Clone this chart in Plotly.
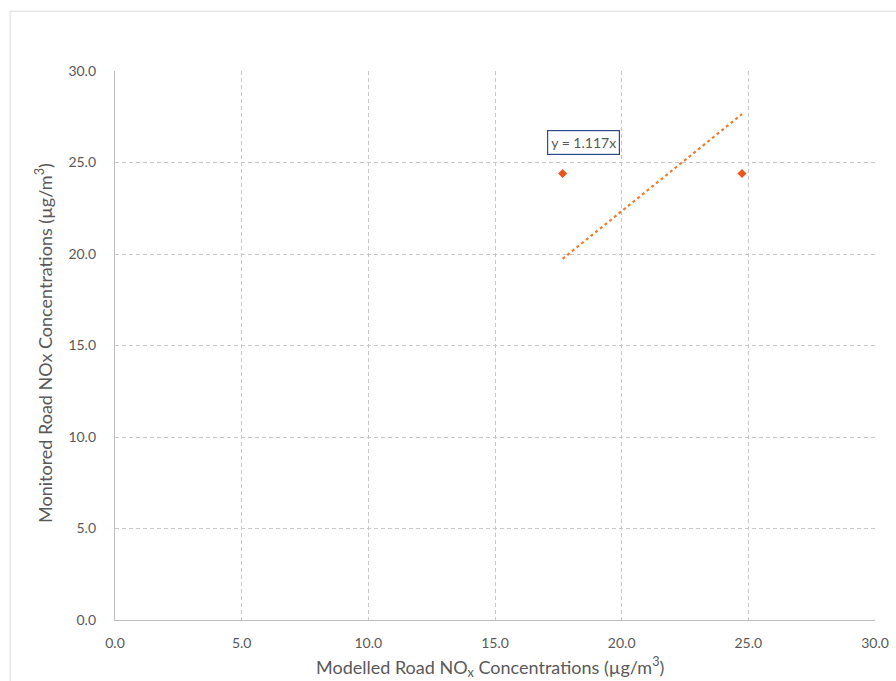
import plotly.graph_objects as go

# Data
modelled = [17.67, 24.75]          # Modelled Road NOx (µg/m3)
monitored = [24.4, 24.4]           # Monitored Road NOx (µg/m3)
slope = 1.117                      # trendline through origin
trend_label = "y = 1.117x"
tick_vals = [0, 5, 10, 15, 20, 25, 30]
x_title = "Modelled Road NO<sub>x</sub> Concentrations (µg/m<sup>3</sup>)"
y_title = "Monitored Road NOx Concentrations (µg/m<sup>3</sup>)"

x_min, x_max = min(modelled), max(modelled)
trend_x = [x_min, x_max]
trend_y = [slope * v for v in trend_x]

fig = go.Figure()
fig.add_trace(go.Scatter(
    x=trend_x, y=trend_y, mode="lines",
    line=dict(color="#ED7D31", width=2.2, dash="dot"),
    hoverinfo="skip", showlegend=False,
))
fig.add_trace(go.Scatter(
    x=modelled, y=monitored, mode="markers",
    marker=dict(symbol="diamond", size=7, color="#E8561E"),
    showlegend=False,
))

grid = "#C8C8C8"
font_family = "Lato, 'Open Sans', sans-serif"
axis_common = dict(
    range=[0, 30], tickvals=tick_vals, tickformat=".1f",
    showgrid=True, gridcolor=grid, griddash="4px,3px", gridwidth=1,
    zeroline=False, showline=True, linecolor="#BFBFBF", linewidth=1.3,
    ticks="", automargin=False,
    tickfont=dict(size=14, color="#595959"),
)

fig.update_layout(
    width=896, height=681,
    margin=dict(l=115, r=21, t=71, b=61),
    paper_bgcolor="white", plot_bgcolor="white",
    font=dict(family=font_family, color="#595959", size=14),
    xaxis=dict(**axis_common, ticklabelstandoff=10),
    yaxis=dict(**axis_common, ticklabelstandoff=15),
    annotations=[
        dict(x=18.5, y=26.1, xref="x", yref="y", text=trend_label, showarrow=False,
             font=dict(size=14, color="#595959", family=font_family),
             bordercolor="#2F4A8A", borderwidth=1.2, borderpad=3, bgcolor="white"),
        dict(x=0.493, y=-0.0856, xref="paper", yref="paper", text=x_title,
             showarrow=False, xanchor="center", yanchor="middle",
             font=dict(size=18, color="#595959", family=font_family)),
        dict(x=-0.0934, y=0.5046, xref="paper", yref="paper", text=y_title,
             showarrow=False, xanchor="center", yanchor="middle", textangle=-90,
             font=dict(size=18, color="#595959", family=font_family)),
    ],
    shapes=[dict(
        type="rect", xref="paper", yref="paper",
        x0=-0.138, x1=1.04, y0=-0.14, y1=1.109,
        line=dict(color="#D9D9D9", width=1), layer="below",
    )],
)

fig.write_html("out.html")
